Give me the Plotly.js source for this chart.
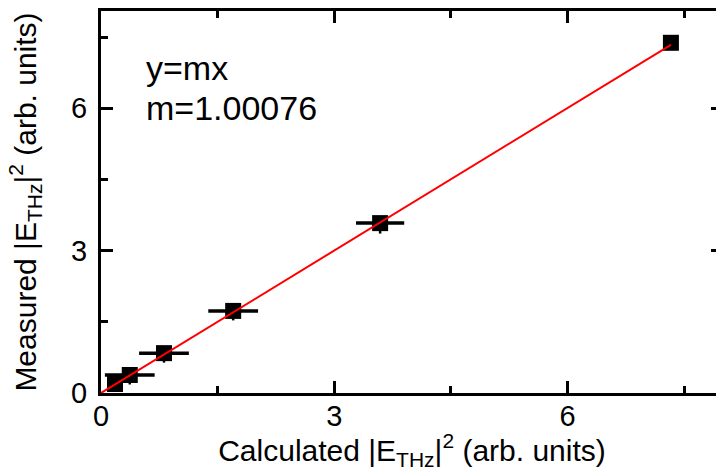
<!DOCTYPE html>
<html>
<head>
<meta charset="utf-8">
<script src="https://cdn.plot.ly/plotly-3.0.1.min.js"></script>
<style>
html,body{margin:0;padding:0;overflow:hidden;background:#fff;}
#chart{width:730px;height:471px;}
</style>
</head>
<body>
<div id="chart"></div>
<script>
// Data
const calcX   = [0.18, 0.37, 0.81, 1.70, 3.59, 7.33];
const measY   = [0.19, 0.38, 0.84, 1.73, 3.58, 7.38];
const errX    = [0.05, 0.32, 0.32, 0.32, 0.31, 0.0];
const errYup  = [0.0, 0.08, 0.08, 0.08, 0.08, 0.0];
const errYdn  = [0.0, 0.2, 0.2, 0.2, 0.22, 0.0];
const slope   = 1.00076;
const fitX    = [0, 7.33];
const fitY    = fitX.map(v => slope * v);
const tickVals = [0, 3, 6];
const tickText = ['0', '3', '6'];
const minorVals = [1.5, 4.5, 7.5];
const fitLabel1 = 'y=mx';
const fitLabel2 = 'm=' + slope.toFixed(5);

const font = 'Liberation Sans, Arial, Helvetica, sans-serif';

const traces = [
  {
    x: calcX, y: measY, type: 'scatter', mode: 'markers',
    marker: {symbol: 'square', size: 16, color: '#000'},
    error_x: {type: 'data', array: errX, visible: true, color: '#000', thickness: 3.5, width: 0},
    error_y: {type: 'data', symmetric: false, array: errYup, arrayminus: errYdn, visible: true, color: '#000', thickness: 2.5, width: 0},
    showlegend: false
  },
  {
    x: fitX, y: fitY, type: 'scatter', mode: 'lines',
    line: {color: '#ff0000', width: 2},
    showlegend: false
  }
];

const axisCommon = {
  showgrid: false, zeroline: false,
  showline: true, linecolor: '#000', linewidth: 3,
  mirror: 'allticks', ticks: 'inside', ticklen: 12, tickwidth: 3, tickcolor: '#000',
  tickfont: {family: font, size: 29, color: '#000'},
  tickvals: tickVals, ticktext: tickText,
  minor: {tickvals: minorVals, ticks: 'inside', ticklen: 7, tickwidth: 3, tickcolor: '#000'}
};

const layout = {
  width: 730, height: 471,
  margin: {l: 101, r: 7, t: 11, b: 78},
  paper_bgcolor: '#fff', plot_bgcolor: '#fff',
  font: {family: font, color: '#000'},
  xaxis: Object.assign({}, axisCommon, {
    range: [0, 8],
    ticklabelstandoff: -5,
    title: {text: 'Calculated |E<sub>THz</sub>|<sup>2</sup> (arb. units)', font: {family: font, size: 30, color: '#000'}, standoff: 10}
  }),
  yaxis: Object.assign({}, axisCommon, {
    range: [0, 8.05],
    ticklabelstandoff: 5,
    title: {text: 'Measured |E<sub>THz</sub>|<sup>2</sup> (arb. units)', font: {family: font, size: 30, color: '#000'}, standoff: 26}
  }),
  annotations: [
    {xref: 'paper', yref: 'paper', x: 0.069, y: 0.852, xanchor: 'left', yanchor: 'middle',
     text: fitLabel1, showarrow: false, font: {family: font, size: 34, color: '#000'}},
    {xref: 'paper', yref: 'paper', x: 0.069, y: 0.747, xanchor: 'left', yanchor: 'middle',
     text: fitLabel2, showarrow: false, font: {family: font, size: 34, color: '#000'}}
  ]
};

Plotly.newPlot('chart', traces, layout, {displayModeBar: false, staticPlot: true});
</script>
</body>
</html>
